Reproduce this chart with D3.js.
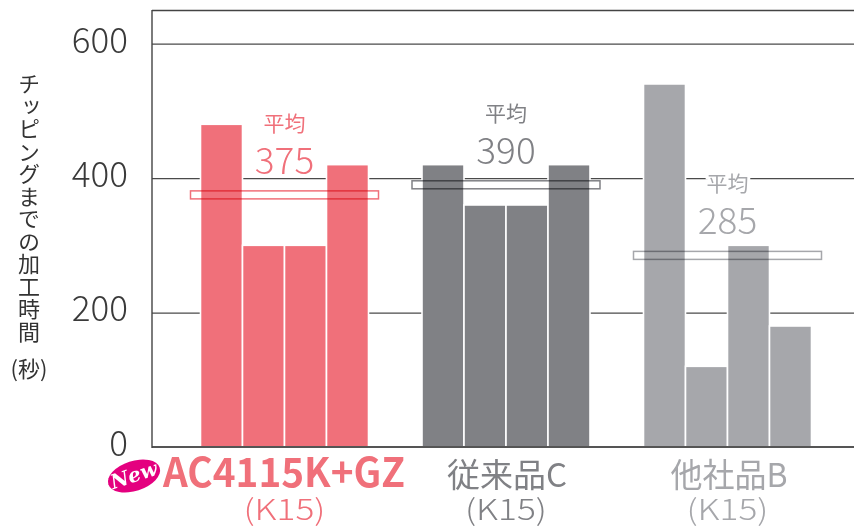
<!DOCTYPE html>
<html><head><meta charset="utf-8">
<script src="https://cdn.jsdelivr.net/npm/d3@7"></script>
<style>
html,body{margin:0;padding:0;background:#fff;}
svg{display:block;font-family:"Noto Sans CJK JP","Noto Sans",sans-serif;}
</style></head>
<body><svg id="chart" width="854" height="527"></svg>
<script>
// ---- data ----
const categories = ["AC4115K+GZ", "従来品C", "他社品B"];
const subLabels = ["(K15)", "(K15)", "(K15)"];
const runs = ["1", "2", "3", "4"];
const valuesAC4115 = [480, 300, 300, 420];
const valuesConvC = [420, 360, 360, 420];
const valuesOtherB = [540, 120, 300, 180];
const averages = [375, 390, 285];
const avgLabel = "平均";
const yTicks = [0, 200, 400, 600];
const yTitle = "チッピングまでの加工時間";
const yUnit = "(秒)";
const colors = ["#f0707a", "#808185", "#a6a7ab"];

const series = [valuesAC4115, valuesConvC, valuesOtherB];

// ---- layout ----
const svg = d3.select("#chart");
const pLeft = 152, pRight = 854, pTop = 10, pBottom = 447;

const y = d3.scaleLinear().domain([0, 650]).range([pBottom, pTop]);
const xg = d3.scalePoint().domain(categories).range([284.5, 727.5]);
const xb = d3.scaleBand().domain(runs).range([-84, 84]).paddingInner(0);

// gridlines via axis
const axis = d3.axisLeft(y).tickValues(yTicks).tickSize(-(pRight - pLeft)).tickPadding(24);
const gAxis = svg.append("g").attr("transform", `translate(${pLeft},0)`).call(axis);
gAxis.select(".domain").remove();
gAxis.selectAll(".tick line").attr("stroke", "#4a4a4a").attr("stroke-width", 1.2);
gAxis.selectAll(".tick text")
  .attr("fill", "#3a3a3a").attr("font-size", 35).attr("font-weight", 300).attr("dy", "0.24em")
  .style("font-family", "'Noto Sans CJK JP','Noto Sans',sans-serif");

// frame
svg.append("line").attr("x1", pLeft).attr("x2", pRight).attr("y1", pTop + 0.5).attr("y2", pTop + 0.5)
  .attr("stroke", "#444").attr("stroke-width", 1.3);

// bars
categories.forEach((c, i) => {
  const g = svg.append("g").attr("transform", `translate(${xg(c)},0)`);
  g.selectAll("rect").data(series[i]).join("rect")
    .attr("x", (d, j) => xb(runs[j]))
    .attr("width", xb.bandwidth())
    .attr("y", d => y(d))
    .attr("height", d => y(0) - y(d))
    .attr("fill", colors[i])
    .attr("stroke", "#fff").attr("stroke-width", 1.6);
});

// axes lines on top
svg.append("line").attr("x1", pLeft).attr("x2", pRight).attr("y1", pBottom).attr("y2", pBottom)
  .attr("stroke", "#555").attr("stroke-width", 2);
svg.append("line").attr("x1", pLeft).attr("x2", pLeft).attr("y1", pTop).attr("y2", pBottom + 1)
  .attr("stroke", "#444").attr("stroke-width", 1.4);

// average boxes and labels
categories.forEach((c, i) => {
  const cx = xg(c), ay = y(averages[i]);
  svg.append("rect")
    .attr("x", cx - 94).attr("width", 188)
    .attr("y", ay - 4).attr("height", 8)
    .attr("fill", "none").attr("stroke", colors[i]).attr("stroke-width", 1.5)
    .style("mix-blend-mode", "multiply");
  svg.append("text").attr("x", cx).attr("y", ay - 73)
    .attr("text-anchor", "middle").attr("dominant-baseline", "central")
    .attr("font-size", 21).attr("fill", colors[i])
    .attr("stroke", "#fff").attr("stroke-width", 6).attr("paint-order", "stroke")
    .text(avgLabel);
  svg.append("text").attr("x", cx).attr("y", ay - 37)
    .attr("text-anchor", "middle").attr("dominant-baseline", "central")
    .attr("font-size", 37).attr("font-weight", 300).attr("fill", colors[i])
    .text(averages[i]);
});

// category labels
const catSpec = [
  {w: 242, size: 40, weight: 700, cx: 284},
  {w: 120, size: 33, weight: 400, cx: 507},
  {w: 117, size: 33, weight: 400, cx: 729}
];
categories.forEach((c, i) => {
  const s = catSpec[i];
  svg.append("text").attr("x", s.cx).attr("y", 487)
    .attr("text-anchor", "middle").attr("font-size", s.size).attr("font-weight", s.weight)
    .attr("fill", colors[i]).attr("textLength", s.w).attr("lengthAdjust", "spacingAndGlyphs")
    .text(c);
  svg.append("text").attr("x", xg(c)).attr("y", 520)
    .attr("text-anchor", "middle").attr("font-size", 29).attr("font-weight", 300)
    .attr("fill", colors[i]).attr("textLength", 82).attr("lengthAdjust", "spacingAndGlyphs")
    .text(subLabels[i]);
});

// New badge
const badge = svg.append("g").attr("transform", "translate(134,476) rotate(-18)");
badge.append("ellipse").attr("rx", 27).attr("ry", 15).attr("fill", "#e4007f");
badge.append("text").attr("x", 0).attr("y", 6).attr("text-anchor", "middle")
  .attr("font-size", 20).attr("font-style", "italic").attr("font-weight", 700)
  .attr("fill", "#fff").style("font-family", "'DejaVu Serif',serif").text("New");

// y title
svg.append("text").attr("x", 29).attr("y", 73)
  .style("writing-mode", "vertical-rl").style("text-orientation", "upright")
  .attr("font-size", 22).attr("fill", "#333").attr("letter-spacing", 0.5)
  .text(yTitle);
svg.append("text").attr("x", 29).attr("y", 377).attr("text-anchor", "middle")
  .attr("font-size", 22).attr("fill", "#333").text(yUnit);
</script></body></html>
